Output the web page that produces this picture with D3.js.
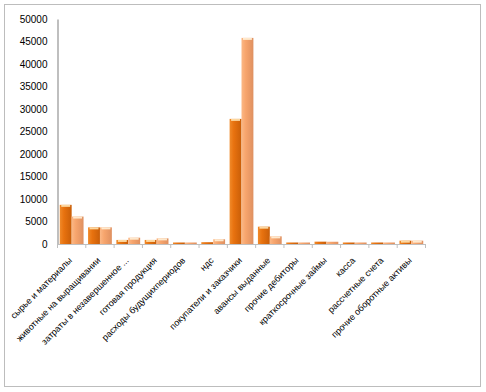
<!DOCTYPE html>
<html><head><meta charset="utf-8">
<script src="https://cdn.jsdelivr.net/npm/d3@7"></script>
<style>body{margin:0;background:#fff}svg{display:block}</style>
</head><body>
<script>
const categories = ["сырье и материалы","животные на выращивании","затраты в незавершенное ...","готовая продукция","расходы будущихпериодов","ндс","покупатели и заказчики","авансы выданные","прочие дебиторы","краткосрочные займы","касса","рассчетные счета","прочие оборотные активы"];
const series1 = [8700,3700,900,900,60,400,27800,3850,60,520,60,60,740];
const series2 = [6100,3700,1400,1250,60,1050,45800,1700,60,500,60,60,740];
const yTicks = [0,5000,10000,15000,20000,25000,30000,35000,40000,45000,50000];

const W=486,H=392;
const svg=d3.select("body").append("svg").attr("width",W).attr("height",H);
const defs=svg.append("defs");
function grad(id,stops){
  const g=defs.append("linearGradient").attr("id",id).attr("x1","0").attr("x2","1").attr("y1","0").attr("y2","0");
  stops.forEach(s=>g.append("stop").attr("offset",s[0]).attr("stop-color",s[1]));
}
grad("g1",[[0,"#F08A2A"],[0.35,"#E8720F"],[1,"#C95E08"]]);
grad("g2",[[0,"#FBB886"],[0.35,"#F7A56D"],[1,"#DF9060"]]);

svg.append("rect").attr("x",4.5).attr("y",4.5).attr("width",476).attr("height",382)
  .attr("fill","#fff").attr("stroke","#BDBDBD");

const x=d3.scaleBand().domain(categories).range([57.5,425.5]);
const y=d3.scaleLinear().domain([0,50000]).range([244,19]);
const sub=d3.scaleBand().domain([0,1]).range([0,x.bandwidth()]).paddingInner(0).paddingOuter(0.19);

const g=svg.append("g");
const ya=g.append("g").attr("transform","translate(57.5,0)").call(d3.axisLeft(y).tickValues(yTicks).tickSize(0).tickPadding(10).tickFormat(d3.format("d")));
ya.select(".domain").attr("stroke","#BFBFBF").attr("stroke-width",2);
ya.selectAll("text").attr("font-family","Liberation Sans, Arial, sans-serif").attr("font-size","10px").attr("fill","#000");

categories.forEach((c,i)=>{
  [[series1[i],"g1","#FFE3B0"],[series2[i],"g2","#FFF1D8"]].forEach((s,j)=>{
    const bx=x(c)+sub(j), bw=sub.bandwidth(), v=s[0];
    const top=y(v), h=Math.max(1.5,y(0)-top);
    g.append("rect").attr("x",bx).attr("y",y(0)-h).attr("width",bw).attr("height",h).attr("fill",`url(#${s[1]})`);
    if(h>3){
      g.append("rect").attr("x",bx+1.5).attr("y",y(0)-h).attr("width",bw-3).attr("height",2).attr("fill",s[2]).attr("opacity",0.9);
    }
  });
});

const xa=g.append("g").attr("transform","translate(0,244)");
xa.append("line").attr("x1",57.5).attr("x2",425.5).attr("y1",0.5).attr("y2",0.5).attr("stroke","#BFBFBF");
d3.range(categories.length+1).forEach(i=>{
  const xx=57.5+i*x.step();
  xa.append("line").attr("x1",xx).attr("x2",xx).attr("y1",0).attr("y2",4).attr("stroke","#BFBFBF");
});
categories.forEach(c=>{
  const cx=x(c)+x.bandwidth()/2+1;
  xa.append("text").attr("transform",`translate(${cx},17) rotate(-45)`)
    .attr("text-anchor","end").attr("font-family","Liberation Sans, Arial, sans-serif").attr("font-size","9px").attr("fill","#000").text(c);
});
</script>
</body></html>
